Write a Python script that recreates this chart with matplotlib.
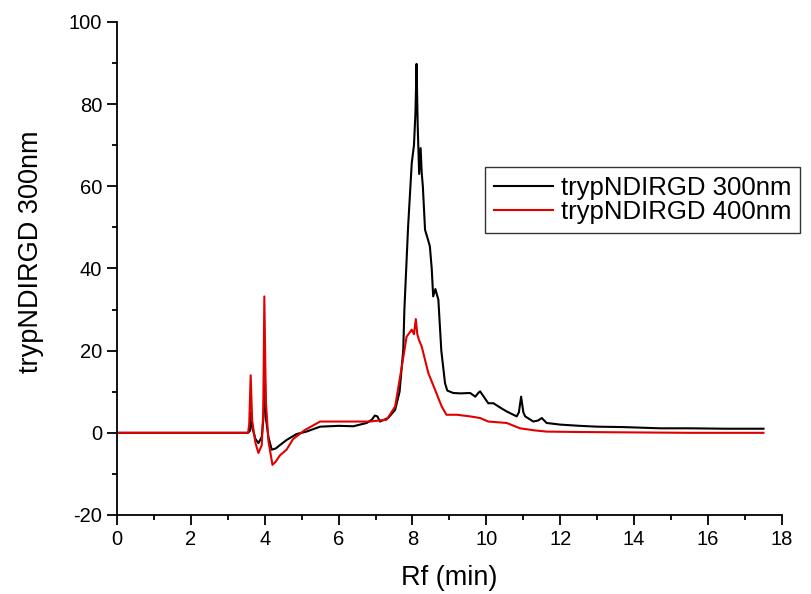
import matplotlib
matplotlib.use("Agg")
import matplotlib.pyplot as plt
from matplotlib.ticker import MultipleLocator

plt.rcParams['font.family'] = ['Liberation Sans', 'DejaVu Sans']
plt.rcParams['axes.unicode_minus'] = False

# (time in min, signal)
t_300 = [0.0, 3.55, 3.6, 3.63, 3.67, 3.75, 3.83, 3.92, 3.97, 4.0, 4.04, 4.1,
         4.19, 4.3, 4.41, 4.6, 4.86, 5.13, 5.5, 6.0, 6.4, 6.76, 6.9, 6.98,
         7.05, 7.12, 7.34, 7.53, 7.65, 7.75, 7.78, 7.88, 7.98, 8.04, 8.08,
         8.11, 8.14, 8.18, 8.22, 8.25, 8.28, 8.34, 8.42, 8.47, 8.52, 8.56,
         8.62, 8.65, 8.7, 8.78, 8.88, 8.94, 9.1, 9.3, 9.56, 9.7, 9.78, 9.83,
         10.05, 10.19, 10.4, 10.55, 10.82, 10.88, 10.94, 11.0, 11.05, 11.27,
         11.4, 11.5, 11.63, 12.0, 12.53, 13.0, 13.7, 14.7, 15.5, 16.5, 17.5]
v_300 = [0.0, 0.0, 0.5, 5.0, 1.0, -1.5, -2.5, -1.0, 4.0, 15.0, 3.0, -1.0,
         -4.1, -3.8, -3.0, -1.7, -0.3, 0.3, 1.5, 1.7, 1.6, 2.4, 3.2, 4.2,
         4.0, 2.75, 3.6, 5.6, 10.0, 20.2, 29.9, 50.0, 65.7, 70.0, 78.0,
         89.8, 75.0, 63.0, 69.3, 63.2, 60.0, 49.4, 47.0, 45.4, 40.0, 33.2,
         35.0, 34.0, 32.4, 20.0, 12.1, 10.3, 9.7, 9.6, 9.7, 8.8, 9.7, 10.1,
         7.2, 7.2, 6.0, 5.2, 4.0, 5.0, 8.8, 5.0, 4.0, 2.75,
         3.0, 3.6, 2.4, 2.0, 1.7, 1.5, 1.4, 1.1, 1.1, 1.0, 1.0]

t_400 = [0.0, 3.55, 3.58, 3.62, 3.66, 3.75, 3.83, 3.92, 3.96, 3.99, 4.03,
         4.1, 4.21, 4.3, 4.41, 4.59, 4.77, 5.09, 5.5, 6.2, 6.85, 7.3, 7.53,
         7.71, 7.84, 7.98, 8.04, 8.09, 8.13, 8.18, 8.25, 8.43, 8.61, 8.79,
         8.92, 9.2, 9.56, 9.83, 10.05, 10.55, 10.91, 11.3, 11.63, 12.5,
         14.0, 15.5, 17.5]
v_400 = [0.0, 0.0, 2.0, 14.0, 3.0, -2.5, -4.9, -3.0, 5.0, 33.2, 8.0,
         -2.0, -7.8, -7.0, -5.5, -4.1, -1.5, 0.7, 2.75, 2.75, 2.75, 3.2, 6.4,
         16.1, 23.4, 25.1, 24.0, 27.7, 24.0, 22.5, 21.0, 14.5, 10.5, 6.4,
         4.4, 4.4, 4.0, 3.6, 2.75, 2.4, 1.1, 0.6, 0.3, 0.2,
         0.1, 0.0, 0.0]

fig = plt.figure(figsize=(8.12, 5.94), dpi=100)
ax = fig.add_axes([0.144, 0.133, 0.819, 0.830])

ax.plot(t_300, v_300, color='black', lw=1.5, label='trypNDIRGD 300nm')
ax.plot(t_400, v_400, color='#e00000', lw=1.5, label='trypNDIRGD 400nm')

ax.set_xlim(0, 18)
ax.set_ylim(-20, 100)
ax.xaxis.set_major_locator(MultipleLocator(2))
ax.xaxis.set_minor_locator(MultipleLocator(1))
ax.yaxis.set_major_locator(MultipleLocator(20))
ax.yaxis.set_minor_locator(MultipleLocator(10))

ax.spines['top'].set_visible(False)
ax.spines['right'].set_visible(False)
ax.spines['left'].set_linewidth(1.3)
ax.spines['bottom'].set_linewidth(1.3)
ax.tick_params(which='major', direction='out', length=7, width=1.3,
               labelsize=14.5, pad=3.5)
ax.tick_params(which='minor', direction='out', length=3.6, width=1.3)

ax.set_xlabel('Rf (min)', fontsize=19.5, labelpad=12)
ax.set_ylabel('trypNDIRGD 300nm', fontsize=19.5)
ax.yaxis.set_label_coords(-0.110, 0.533)

leg = ax.legend(loc='upper left', bbox_to_anchor=(0.597, 0.719),
                bbox_transform=fig.transFigure, fontsize=18.5, frameon=True,
                fancybox=False, edgecolor='black', handlelength=2.3,
                handletextpad=0.3, borderaxespad=0, borderpad=0.35,
                labelspacing=0.0)
leg.get_frame().set_linewidth(1.0)

fig.savefig('out.png', dpi=100)
